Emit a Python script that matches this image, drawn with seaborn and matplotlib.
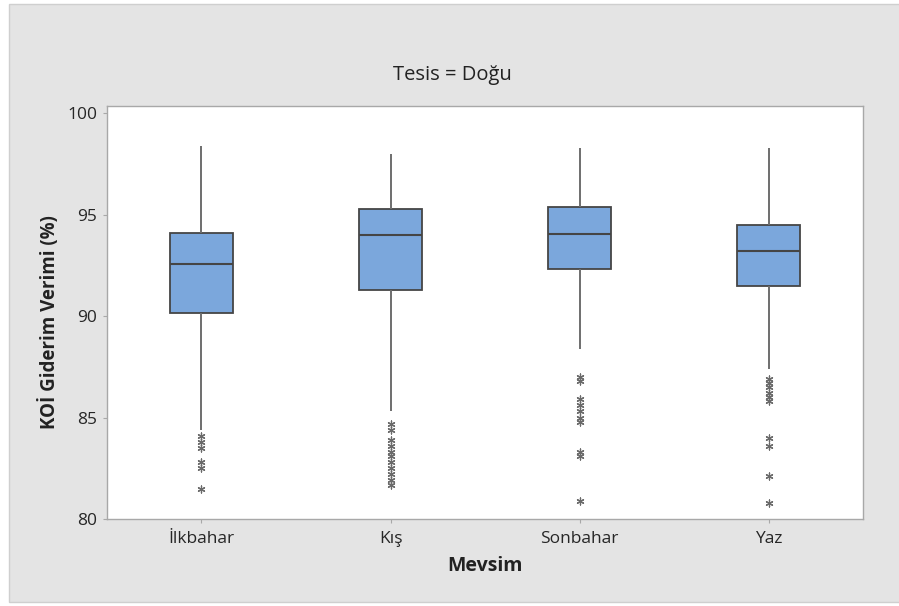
import numpy as np
import pandas as pd
import seaborn as sns
import matplotlib.pyplot as plt
from matplotlib.patches import Rectangle

# Seasons (x categories)
seasons = ["İlkbahar", "Kış", "Sonbahar", "Yaz"]

# Five-number summaries per season: lower whisker, Q1, median, Q3, upper whisker
whisker_low = [84.4, 85.3, 88.4, 87.4]
q1 = [90.15, 91.3, 92.35, 91.5]
median = [92.55, 94.0, 94.05, 93.2]
q3 = [94.1, 95.3, 95.4, 94.5]
whisker_high = [98.4, 98.0, 98.3, 98.3]

# Outliers per season
outliers_ilkbahar = [84.1, 83.8, 83.5, 82.8, 82.5, 81.5]
outliers_kis = [84.7, 84.4, 83.9, 83.6, 83.3, 83.1, 82.8, 82.5, 82.2, 81.9, 81.7]
outliers_sonbahar = [87.0, 86.8, 85.9, 85.6, 85.3, 85.0, 84.8, 83.3, 83.1, 80.9]
outliers_yaz = [86.9, 86.7, 86.5, 86.2, 86.0, 85.8, 84.0, 83.6, 82.1, 80.8]

y_ticks = [80, 85, 90, 95, 100]

# Long-form tables built from the lists above
summary = pd.DataFrame({
    "Mevsim": np.repeat(seasons, 5),
    "Verim": np.column_stack([whisker_low, q1, median, q3, whisker_high]).ravel(),
})
outlier_lists = [outliers_ilkbahar, outliers_kis, outliers_sonbahar, outliers_yaz]
outliers = pd.DataFrame({
    "Mevsim": np.concatenate([[s] * len(v) for s, v in zip(seasons, outlier_lists)]),
    "Verim": np.concatenate(outlier_lists),
})

sns.set_theme(style="white")
plt.rcParams["font.family"] = ["Open Sans", "DejaVu Sans"]

fig = plt.figure(figsize=(8.99, 6.06), dpi=100, facecolor="white")
# Gray panel behind the plot
fig.patches.append(Rectangle((0.010, 0.006), 0.992, 0.988, transform=fig.transFigure,
                             facecolor="#e4e4e4", edgecolor="#cfcfcf", linewidth=1.0,
                             zorder=-10))

ax = fig.add_axes([0.119, 0.1436, 0.841, 0.681])
ax.set_facecolor("white")

box_edge = "#454545"
whisker_col = "#6e6e6e"
sns.boxplot(data=summary, x="Mevsim", y="Verim", order=seasons, whis=(0, 100),
            width=0.335, color="#7ba7dc", saturation=1, showfliers=False,
            showcaps=False, linewidth=1.3, ax=ax,
            boxprops=dict(edgecolor=box_edge),
            medianprops=dict(color=box_edge, linewidth=1.5),
            whiskerprops=dict(color=whisker_col, linewidth=1.4))

sns.stripplot(data=outliers, x="Mevsim", y="Verim", order=seasons, jitter=False,
              marker=(6, 2, 0), size=5, linewidth=0.9, color="#6a6a6a",
              edgecolor="#6a6a6a", ax=ax, zorder=3)

ax.set_xlim(-0.5, 3.5)
ax.set_ylim(80, 100.35)
ax.set_yticks(y_ticks)
ax.set_yticklabels([str(t) for t in y_ticks])

for side in ["left", "bottom", "right", "top"]:
    ax.spines[side].set_visible(True)
    ax.spines[side].set_color("#a8a8a8")
    ax.spines[side].set_linewidth(1.0)

ax.tick_params(axis="both", which="both", direction="out", length=3, width=0.8,
               color="#a8a8a8", labelsize=12.5, labelcolor="#262626", pad=4,
               bottom=True, left=True)
ax.tick_params(axis="x", pad=6)

ax.set_xlabel("Mevsim", fontsize=14, fontweight="bold", color="#222222")
ax.xaxis.set_label_coords(0.5, -0.09)
ax.set_ylabel("KOİ Giderim Verimi (%)", fontsize=13.5, fontweight="bold",
              color="#222222")
ax.yaxis.set_label_coords(-0.062, 0.477)
fig.text(0.503, 0.876, "Tesis = Doğu", ha="center", va="center", fontsize=14.5,
         color="#222222")

fig.savefig("out.png", dpi=100, facecolor=fig.get_facecolor())
